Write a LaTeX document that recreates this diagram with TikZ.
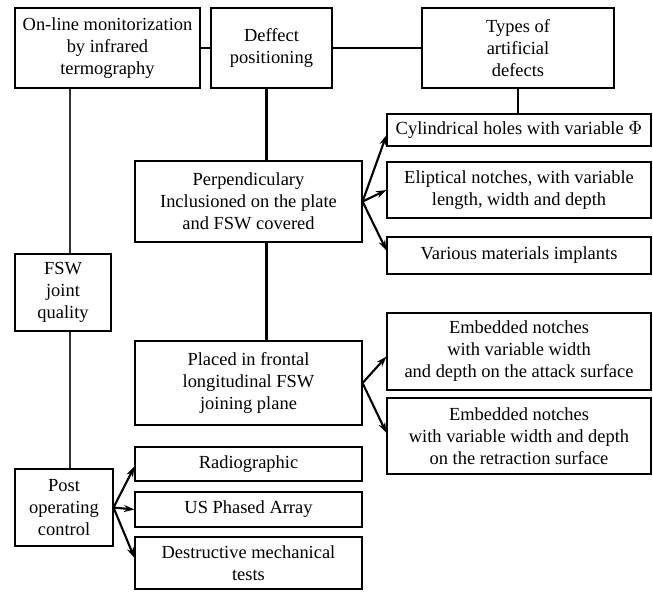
\documentclass[tikz,border=0pt]{standalone}
\usepackage{fontspec}
\setmainfont{Liberation Serif}
\usepackage{tikz}
\usetikzlibrary{arrows.meta}
\tikzset{
  defbox/.style={draw, rectangle, semithick, align=center, inner sep=2pt},
  link/.style={very thick},
  branch/.style={-{Stealth[length=6pt,width=4pt]}, very thick}
}

\begin{document}
\begin{tikzpicture}[font=\fontsize{10.5}{12.5}\selectfont]
\useasboundingbox (0,0) rectangle (13.06,-11.82);

% top row
\node[defbox, minimum width=3.7cm, minimum height=1.6cm] (monitor) at (2.15,-0.96) {
    On-line monitorization\\
    by infrared\\
    termography
};
\node[defbox, minimum width=2.42cm, minimum height=1.6cm] (deffect) at (5.43,-0.96) {
    Deffect\\
    positioning
};
\node[defbox, minimum width=3.84cm, minimum height=1.6cm] (types) at (10.36,-0.96) {
    Types of\\
    artificial\\
    defects
};

% left column
\node[defbox, minimum width=1.92cm, minimum height=1.54cm] (fsw) at (1.26,-5.85) {
    FSW\\
    joint\\
    quality
};
\node[defbox, minimum width=1.96cm, minimum height=1.54cm] (post) at (1.28,-10.15) {
    Post\\
    operating\\
    control
};

% middle column
\node[defbox, minimum width=4.54cm, minimum height=1.62cm] (perp) at (4.97,-4.03) {
    Perpendiculary\\
    Inclusioned on the plate\\
    and FSW covered
};
\node[defbox, minimum width=4.54cm, minimum height=1.68cm] (placed) at (4.97,-7.66) {
    Placed in frontal\\
    longitudinal FSW\\
    joining plane
};
\node[defbox, minimum width=4.54cm, minimum height=0.68cm] (radio) at (4.97,-9.28) {Radiographic};
\node[defbox, minimum width=4.54cm, minimum height=0.7cm] (usarray) at (4.97,-10.19) {US Phased Array};
\node[defbox, minimum width=4.54cm, minimum height=1.04cm] (destr) at (4.97,-11.26) {
    Destructive mechanical\\
    tests
};

% right column
\node[defbox, minimum width=5.28cm, minimum height=0.64cm] (cyl) at (10.38,-2.6) {Cylindrical holes with variable $\Phi$};
\node[defbox, minimum width=5.28cm, minimum height=1.12cm] (elip) at (10.38,-3.8) {
    Eliptical notches, with variable\\
    length, width and depth
};
\node[defbox, minimum width=5.28cm, minimum height=0.74cm] (implant) at (10.38,-5.11) {Various materials implants};
\node[defbox, minimum width=5.28cm, minimum height=1.54cm] (attack) at (10.38,-7.03) {
    Embedded notches\\
    with variable width\\
    and depth on the attack surface
};
\node[defbox, minimum width=5.28cm, minimum height=1.52cm] (retract) at (10.38,-8.72) {
    Embedded notches\\
    with variable width and depth\\
    on the retraction surface
};

% plain links
\draw[link] (monitor.east) -- (deffect.west);
\draw[link] (deffect.east) -- (types.west);
\draw[link] (types.south) -- (types.south |- cyl.north);
\draw[link] ([xshift=-0.1cm]deffect.south) -- ([xshift=-0.1cm]deffect.south |- perp.north);
\draw[link] ([xshift=-0.1cm]deffect.south |- perp.south) -- ([xshift=-0.1cm]deffect.south |- placed.north);
\draw[link, black!80] ([xshift=0.14cm]fsw.north) -- ([xshift=0.14cm]fsw.north |- monitor.south);
\draw[link, black!80] ([xshift=0.14cm]fsw.south) -- ([xshift=0.14cm]fsw.south |- post.north);

% branching arrows
\draw[branch] (perp.east) -- ([yshift=-0.1cm]cyl.west);
\draw[branch] (perp.east) -- (elip.west);
\draw[branch] (perp.east) -- ([yshift=0.1cm]implant.west);
\draw[branch] (placed.east) -- ([yshift=-0.1cm]attack.west);
\draw[branch] (placed.east) -- ([yshift=0.06cm]retract.west);
\draw[branch] (post.east) -- ([yshift=-0.05cm]radio.west);
\draw[branch] (post.east) -- (usarray.west);
\draw[branch] (post.east) -- ([yshift=0.1cm]destr.west);
\end{tikzpicture}
\end{document}
